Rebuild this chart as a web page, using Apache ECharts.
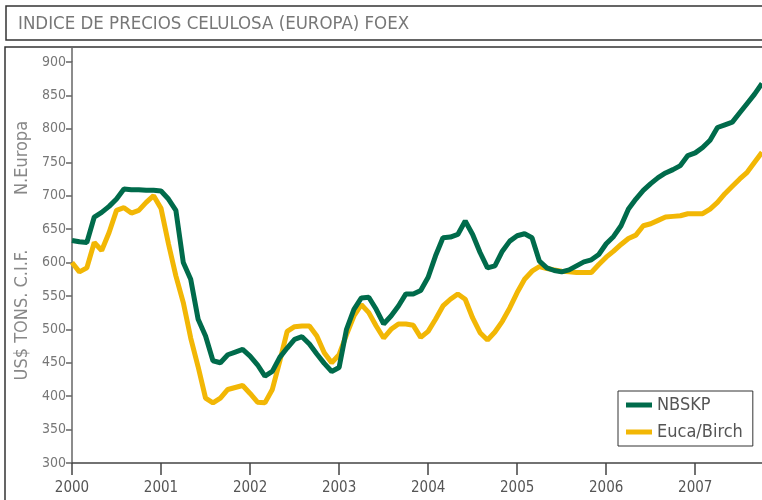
<!DOCTYPE html>
<html>
<head>
<meta charset="utf-8">
<script src="https://cdn.jsdelivr.net/npm/echarts@6/dist/echarts.min.js"></script>
<style>
  html, body { margin: 0; padding: 0; background: #fff; }
  #chart { width: 762px; height: 500px; }
</style>
</head>
<body>
<div id="chart"></div>
<script>
// monthly, Jan 2000 .. Oct 2007
var startYear = 2000;
var nbskp = [633, 631, 630, 668, 675, 684, 695, 710, 709, 709, 708, 708,
  707, 695, 678, 600, 575, 515, 490, 453, 450, 462, 466, 470,
  460, 447, 430, 437, 458, 472, 485, 489, 478, 463, 449, 437,
  443, 500, 530, 547, 548, 530, 508, 520, 535, 553, 553, 558,
  578, 610, 637, 638, 642, 662, 642, 615, 592, 595, 617, 632,
  640, 643, 637, 602, 592, 588, 586, 589, 595, 601, 604, 612,
  628, 639, 655, 680, 695, 708, 718, 727, 734, 739, 745, 760,
  764, 772, 783, 802, 806, 810, 824, 838, 852, 868];
var eucaBirch = [600, 586, 592, 630, 618, 645, 678, 682, 674, 678, 690, 700,
  681, 628, 580, 540, 487, 444, 397, 390, 397, 410, 413, 416,
  404, 391, 390, 410, 452, 497, 504, 505, 505, 490, 465, 450,
  462, 492, 520, 537, 525, 505, 487, 500, 508, 508, 506, 488,
  497, 515, 535, 545, 553, 545, 517, 495, 484, 496, 512, 532,
  555, 575, 587, 594, 591, 589, 587, 586, 585, 585, 585, 597,
  608, 617, 627, 636, 641, 655, 658, 663, 668, 669, 670, 673,
  673, 673, 680, 690, 703, 714, 725, 735, 750, 765];
var seriesNames = ["NBSKP", "Euca/Birch"];
var title = "INDICE DE PRECIOS CELULOSA (EUROPA) FOEX";

var months = [];
for (var i = 0; i < nbskp.length; i++) {
  months.push(String(startYear + Math.floor(i / 12)) + "-" + (i % 12 + 1));
}

var green = "#006b4b";
var yellow = "#f2b705";
var font = "'DejaVu Sans Condensed', 'Liberation Sans Narrow', sans-serif";

var chart = echarts.init(document.getElementById("chart"));
chart.setOption({
  animation: false,
  grid: { left: 72, right: 0, top: 62, bottom: 37 },
  graphic: [
    { type: "rect", shape: { x: 6, y: 6, width: 780, height: 34 },
      style: { fill: "none", stroke: "#333", lineWidth: 1.5 }, z: 0 },
    { type: "text", x: 18, y: 24,
      style: { text: title, fill: "#777", font: "18.5px " + font,
        verticalAlign: "middle" } },
    { type: "rect", shape: { x: 5, y: 47, width: 780, height: 480 },
      style: { fill: "none", stroke: "#333", lineWidth: 1.5 }, z: 0 },
    { type: "line", shape: { x1: 72, y1: 47, x2: 72, y2: 62 },
      style: { stroke: "#666", lineWidth: 1.5 } },
    { type: "text", x: 22, y: 158, rotation: Math.PI / 2,
      style: { text: "N.Europa", fill: "#888", font: "18px " + font,
        align: "center", verticalAlign: "middle" } },
    { type: "text", x: 22, y: 315, rotation: Math.PI / 2,
      style: { text: "US$ TONS. C.I.F.", fill: "#888", font: "18px " + font,
        align: "center", verticalAlign: "middle" } }
  ],
  legend: {
    orient: "vertical",
    left: 618, top: 391,
    borderColor: "#333", borderWidth: 1,
    padding: [5, 10, 5, 8],
    itemWidth: 26, itemHeight: 5, itemGap: 9,
    icon: "rect",
    textStyle: { fontSize: 18, color: "#555", fontFamily: font },
    data: seriesNames
  },
  xAxis: {
    type: "category",
    boundaryGap: false,
    data: months,
    axisLine: { lineStyle: { color: "#444", width: 1.5 } },
    axisTick: { length: 12, interval: function (idx) { return idx % 12 === 0; },
      lineStyle: { color: "#444", width: 1.5 } },
    axisLabel: {
      interval: function (idx) { return idx % 12 === 0; },
      formatter: function (v) { return v.split("-")[0]; },
      color: "#555", fontSize: 15, fontFamily: font, margin: 18
    },
    splitLine: { show: false }
  },
  yAxis: {
    type: "value",
    min: 300, max: 900, interval: 50,
    axisLine: { show: true, lineStyle: { color: "#666", width: 1.5 } },
    axisTick: { show: true, length: 6, lineStyle: { color: "#666", width: 1.5 } },
    axisLabel: { color: "#777", fontSize: 14, fontFamily: font, margin: 6 },
    splitLine: { show: false }
  },
  series: [
    { name: seriesNames[1], type: "line", data: eucaBirch, symbol: "none",
      color: yellow, lineStyle: { color: yellow, width: 5 } },
    { name: seriesNames[0], type: "line", data: nbskp, symbol: "none",
      color: green, lineStyle: { color: green, width: 5 } }
  ]
});
</script>
</body>
</html>
